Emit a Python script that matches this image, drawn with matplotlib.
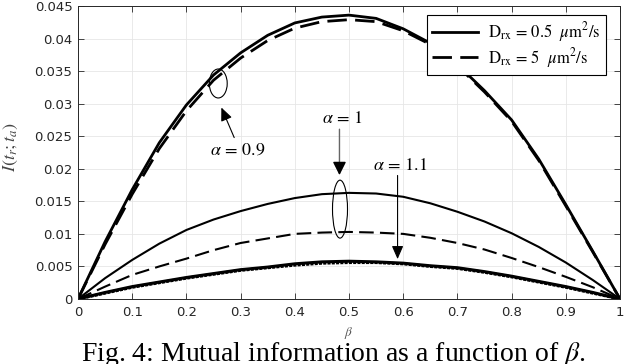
import numpy as np
import matplotlib
matplotlib.use('Agg')
import matplotlib.pyplot as plt
from matplotlib.patches import Ellipse

plt.rcParams['mathtext.fontset'] = 'stix'
plt.rcParams['font.family'] = ['DejaVu Sans']

# ************************************************************************
# Data
# ************************************************************************
beta = [0, 0.05, 0.1, 0.15, 0.2, 0.25, 0.3, 0.35, 0.4, 0.45, 0.5,
        0.55, 0.6, 0.65, 0.7, 0.75, 0.8, 0.85, 0.9, 0.95, 1.0]

# alpha = 0.9
mi_a09_d05 = [0, 0.0088, 0.0168, 0.0240, 0.0298, 0.0344, 0.0378, 0.0405, 0.0424, 0.0433, 0.0436,
              0.0431, 0.0415, 0.0393, 0.0360, 0.0320, 0.0275, 0.0215, 0.0145, 0.0073, 0]
mi_a09_d5 = [0, 0.0084, 0.0161, 0.0231, 0.0289, 0.0336, 0.0370, 0.0397, 0.0416, 0.0426, 0.0429,
             0.0426, 0.0412, 0.0391, 0.0358, 0.0318, 0.0273, 0.0213, 0.0143, 0.0072, 0]

# alpha = 1
mi_a1_d05 = [0, 0.0032, 0.0060, 0.0085, 0.0106, 0.0122, 0.0135, 0.0146, 0.0155, 0.0161, 0.0163,
             0.0162, 0.0157, 0.0147, 0.0134, 0.0119, 0.0101, 0.0080, 0.0056, 0.0029, 0]
mi_a1_d5 = [0, 0.0019, 0.0037, 0.0050, 0.0062, 0.0075, 0.0086, 0.0093, 0.0100, 0.0102, 0.0103,
            0.0102, 0.0100, 0.0094, 0.0086, 0.0076, 0.0063, 0.0049, 0.0034, 0.0018, 0]

# alpha = 1.1
mi_a11_d05 = [0, 0.0010, 0.0019, 0.0026, 0.0033, 0.0039, 0.0045, 0.0049, 0.0054, 0.0057, 0.0058,
              0.0057, 0.0055, 0.0051, 0.0048, 0.0042, 0.0035, 0.0027, 0.0019, 0.0010, 0]
mi_a11_d5 = [0, 0.0009, 0.0018, 0.0025, 0.0032, 0.0038, 0.0044, 0.0048, 0.0052, 0.0055, 0.0056,
             0.0056, 0.0054, 0.0050, 0.0047, 0.0041, 0.0034, 0.0026, 0.0018, 0.0009, 0]

legend_labels = [r'$\mathrm{D_{rx}}\, =\, 0.5\ \ \mu\mathrm{m}^2/\mathrm{s}$',
                 r'$\mathrm{D_{rx}}\, =\, 5\ \ \mu\mathrm{m}^2/\mathrm{s}$']

xticks = np.arange(0, 1.01, 0.1)
yticks = np.arange(0, 0.0451, 0.005)
ytick_labels = ['0', '0.005', '0.01', '0.015', '0.02', '0.025', '0.03', '0.035', '0.04', '0.045']
xtick_labels = ['0', '0.1', '0.2', '0.3', '0.4', '0.5', '0.6', '0.7', '0.8', '0.9', '1']

# ************************************************************************
# Plot
# ************************************************************************
fig = plt.figure(figsize=(6.24, 3.64), dpi=100)
ax = fig.add_axes([0.125, 0.1786, 0.8686, 0.8049])

dash = (7, 3)
l1, = ax.plot(beta, mi_a09_d05, color='k', lw=2.0)
l2, = ax.plot(beta, mi_a09_d5, color='k', lw=2.0, dashes=dash)
ax.plot(beta, mi_a1_d05, color='k', lw=1.5)
ax.plot(beta, mi_a1_d5, color='k', lw=1.5, dashes=dash)
ax.plot(beta, mi_a11_d05, color='k', lw=2.2)
ax.plot(beta, mi_a11_d5, color='k', lw=2.2, dashes=(1, 0.4))

ax.set_xlim(0, 1)
ax.set_ylim(0, 0.045)
ax.set_xticks(xticks)
ax.set_xticklabels(xtick_labels)
ax.set_yticks(yticks)
ax.set_yticklabels(ytick_labels)
ax.tick_params(direction='in', top=True, right=True, length=4, width=0.6,
               color='#262626', labelcolor='#262626', labelsize=9.5)
ax.tick_params(axis='x', pad=5)
ax.tick_params(axis='y', pad=4)
for s in ax.spines.values():
    s.set_color('#262626')
    s.set_linewidth(0.7)
ax.grid(True, color='#e6e6e6', lw=0.6)
ax.set_axisbelow(True)

ax.set_xlabel(r'$\beta$', fontsize=9.5, color='#555555')
ax.xaxis.set_label_coords(0.5, -0.088)
ax.set_ylabel(r'$I(t_r; t_a)$', fontsize=13, color='#444444')
ax.yaxis.set_label_coords(-0.107, 0.52)

# ellipses around groups of curves
ax.add_patch(Ellipse((0.2588, 0.0331), 0.033, 0.00445, fill=False, lw=0.8, color='k'))
ax.add_patch(Ellipse((0.4834, 0.0138), 0.0277, 0.0089, fill=False, lw=0.8, color='k'))

# arrows and labels
ax.annotate('', xy=(0.2625, 0.0298), xytext=(0.2902, 0.0244),
            arrowprops=dict(arrowstyle='-|>,head_length=0.8,head_width=0.35', color='k', lw=0.8))
ax.text(0.2957, 0.0229, r'$\alpha\, =\, 0.9$', fontsize=13, ha='center', va='center')

# alpha = 1: grey shaft, black head
ax.annotate('', xy=(0.4824, 0.0195), xytext=(0.4824, 0.0265),
            arrowprops=dict(arrowstyle='-', color='#666666', lw=1.0))
ax.annotate('', xy=(0.4824, 0.0186), xytext=(0.4824, 0.0200),
            arrowprops=dict(arrowstyle='-|>,head_length=0.8,head_width=0.4', color='k', lw=1.0))
ax.text(0.488, 0.0278, r'$\alpha\, =\, 1$', fontsize=13, ha='center', va='center')

ax.annotate('', xy=(0.5896, 0.0057), xytext=(0.5896, 0.0194),
            arrowprops=dict(arrowstyle='-|>,head_length=0.8,head_width=0.35', color='k', lw=0.8))
ax.text(0.595, 0.0206, r'$\alpha\, =\, 1.1$', fontsize=13, ha='center', va='center')

leg = ax.legend([l1, l2], legend_labels, loc='upper right', bbox_to_anchor=(0.974, 0.969),
                borderaxespad=0, fontsize=12, handlelength=2.8, fancybox=False,
                framealpha=1, edgecolor='k', labelspacing=0.1, borderpad=0.3,
                handletextpad=0.6)
leg.get_frame().set_linewidth(0.8)

fig.text(0.534, 0.009, r'Fig. 4: Mutual information as a function of $\beta$.',
         fontsize=20, family='Liberation Serif', ha='center', va='baseline')

plt.savefig('out.png', dpi=100)
